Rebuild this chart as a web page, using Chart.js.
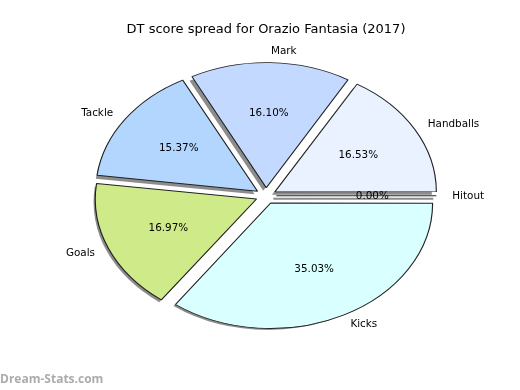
<!DOCTYPE html>
<html>
<head>
<meta charset="utf-8">
<script src="https://cdn.jsdelivr.net/npm/chart.js@4/dist/chart.umd.min.js"></script>
<style>
    html, body { margin: 0; padding: 0; background: #ffffff; }
    #wrap { position: relative; width: 520px; height: 390px; }
    #watermark {
        position: absolute; left: 0; bottom: 3px;
        font-family: 'Open Sans', 'DejaVu Sans', sans-serif;
        font-size: 12px; font-weight: bold; color: #acacac;
    }
</style>
</head>
<body>
<div id="wrap">
    <canvas id="pie-chart" width="520" height="390"></canvas>
    <div id="watermark">Dream-Stats.com</div>
</div>
<script>
// clockwise from 3 o'clock (matplotlib draws counter-clockwise)
const categories = ['Kicks', 'Goals', 'Tackle', 'Mark', 'Handballs', 'Hitout'];
const shares = [35.03, 16.97, 15.37, 16.10, 16.53, 0.00];
const sliceColors = ['#daffff', '#cfeb89', '#b3d6ff', '#c4d9ff', '#ebf2ff', '#cccccc'];

const EXPLODE = 8;        // px the slice centre is pushed out
const STRETCH_X = 1.29;   // pie is drawn as an ellipse
const SHADOW = { dx: -3, dy: 3, color: 'rgba(0, 0, 0, 0.45)' };

document.addEventListener('DOMContentLoaded', () => {
    initPieChart();
});

function sliceShift(arc) {
    const mid = (arc.startAngle + arc.endAngle) / 2;
    return { mid, ox: Math.cos(mid) * EXPLODE, oy: Math.sin(mid) * EXPLODE };
}

const ellipsePlugin = {
    id: 'ellipse',
    beforeDatasetsDraw(chart) {
        const ctx = chart.ctx;
        const arcs = chart.getDatasetMeta(0).data;
        if (!arcs.length) return;
        const { x, y } = arcs[0];
        ctx.save();
        ctx.translate(x, y);
        ctx.scale(STRETCH_X, 1);
        ctx.translate(-x, -y);

        // shadows behind every wedge
        ctx.save();
        ctx.translate(SHADOW.dx / STRETCH_X, SHADOW.dy);
        ctx.fillStyle = SHADOW.color;
        ctx.strokeStyle = SHADOW.color;
        ctx.lineWidth = 2;
        arcs.forEach((arc) => {
            const { ox, oy } = sliceShift(arc);
            ctx.beginPath();
            ctx.moveTo(arc.x + ox, arc.y + oy);
            if (arc.circumference === 0) {
                ctx.lineTo(arc.x + ox + Math.cos(arc.startAngle) * arc.outerRadius,
                           arc.y + oy + Math.sin(arc.startAngle) * arc.outerRadius);
                ctx.stroke();
                return;
            }
            ctx.arc(arc.x + ox, arc.y + oy, arc.outerRadius, arc.startAngle, arc.endAngle);
            ctx.closePath();
            ctx.fill();
        });
        ctx.restore();
    },
    afterDatasetsDraw(chart) {
        const ctx = chart.ctx;
        const arcs = chart.getDatasetMeta(0).data;
        if (!arcs.length) return;

        // empty wedge: Chart.js skips it, matplotlib draws a line
        ctx.strokeStyle = '#222222';
        ctx.lineWidth = 1;
        arcs.forEach((arc) => {
            if (arc.circumference !== 0) return;
            const { ox, oy } = sliceShift(arc);
            ctx.beginPath();
            ctx.moveTo(arc.x + ox, arc.y + oy);
            ctx.lineTo(arc.x + ox + Math.cos(arc.startAngle) * arc.outerRadius,
                       arc.y + oy + Math.sin(arc.startAngle) * arc.outerRadius);
            ctx.stroke();
        });
        ctx.restore();

        // labels and percentages, placed like matplotlib
        ctx.save();
        ctx.fillStyle = '#000000';
        ctx.font = '10.4px "DejaVu Sans", sans-serif';
        ctx.textBaseline = 'middle';
        arcs.forEach((arc, i) => {
            const { mid, ox, oy } = sliceShift(arc);
            const r = arc.outerRadius;
            const lx = arc.x + (ox + Math.cos(mid) * r * 1.1) * STRETCH_X;
            const ly = arc.y + oy + Math.sin(mid) * r * 1.1;
            ctx.textAlign = Math.cos(mid) >= 0 ? 'left' : 'right';
            ctx.fillText(categories[i], lx, ly);

            const px = arc.x + (ox + Math.cos(mid) * r * 0.6) * STRETCH_X;
            const py = arc.y + oy + Math.sin(mid) * r * 0.6;
            ctx.textAlign = 'center';
            ctx.fillText(shares[i].toFixed(2) + '%', px, py);
        });
        ctx.restore();
    },
};

function initPieChart() {
    const canvas = document.getElementById('pie-chart');
    if (!canvas || typeof Chart === 'undefined') return;

    new Chart(canvas.getContext('2d'), {
        type: 'pie',
        data: {
            labels: categories,
            datasets: [{
                data: shares,
                backgroundColor: sliceColors,
                borderColor: '#222222',
                borderWidth: 0.9,
                offset: EXPLODE * 4,
                hoverOffset: 0,
            }],
        },
        options: {
            responsive: false,
            animation: false,
            rotation: 90,
            radius: 124,
            layout: { padding: { left: 12, bottom: 36 } },
            plugins: {
                legend: { display: false },
                tooltip: { enabled: false },
                title: {
                    display: true,
                    text: 'DT score spread for Orazio Fantasia (2017)',
                    color: '#000000',
                    font: { family: 'DejaVu Sans', size: 13, weight: 'normal' },
                    padding: { top: 22, bottom: 0 },
                },
            },
        },
        plugins: [ellipsePlugin],
    });
}
</script>
</body>
</html>
